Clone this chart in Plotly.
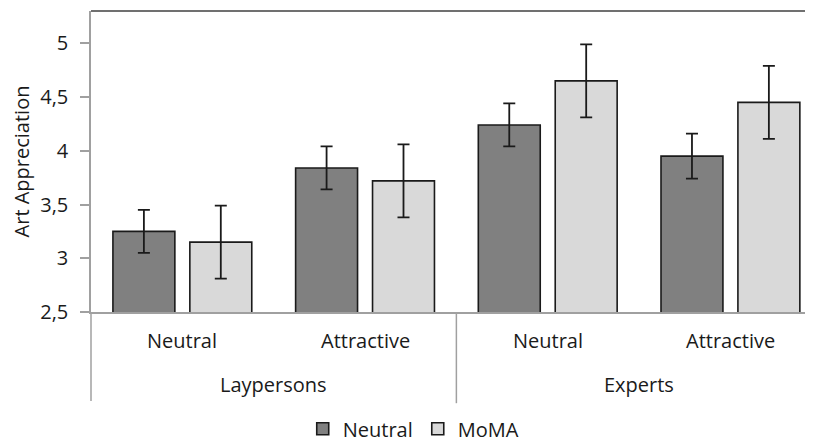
import plotly.graph_objects as go

conditions = ["Neutral", "Attractive", "Neutral", "Attractive"]
groups = ["Laypersons", "Experts"]
x_pos = [0, 1, 2, 3]
neutral_vals = [3.25, 3.84, 4.24, 3.95]
neutral_err = [0.20, 0.20, 0.20, 0.21]
moma_vals = [3.15, 3.72, 4.65, 4.45]
moma_err = [0.34, 0.34, 0.34, 0.34]

FONT = "Open Sans"
TXT = "#1a1a1a"

fig = go.Figure()
fig.add_trace(go.Bar(
    x=x_pos, y=neutral_vals, name="Neutral",
    width=0.339, offset=-0.380,
    marker=dict(color="#808080", line=dict(color="#1a1a1a", width=1.6)),
    error_y=dict(type="data", array=neutral_err, color="#1a1a1a", thickness=1.8, width=6),
))
fig.add_trace(go.Bar(
    x=x_pos, y=moma_vals, name="MoMA",
    width=0.339, offset=0.041,
    marker=dict(color="#d9d9d9", line=dict(color="#1a1a1a", width=1.6)),
    error_y=dict(type="data", array=moma_err, color="#1a1a1a", thickness=1.8, width=6),
))

# the page body adds an 8px offset; the figure is sized to fill the rest of the window
W, H = 805, 435
L, R, T, B = 83, 0, 3, 131

fig.update_layout(
    width=W, height=H,
    margin=dict(l=L, r=R, t=T, b=B, autoexpand=False),
    paper_bgcolor="white", plot_bgcolor="white",
    separators=",.",
    font=dict(family=FONT, size=20, color=TXT),
    showlegend=True,
    legend=dict(orientation="h", x=0.447, xanchor="center", y=-0.388, yanchor="middle",
                font=dict(size=20, family=FONT, color=TXT), itemwidth=30,
                traceorder="normal", bgcolor="rgba(0,0,0,0)"),
    xaxis=dict(range=[-0.5, 3.452], showticklabels=False, showgrid=False, zeroline=False,
               showline=True, linecolor="#a0a0a0", linewidth=1.5, ticks="", fixedrange=True,
               automargin=False),
    yaxis=dict(range=[2.5, 5.3], tick0=2.5, dtick=0.5, showgrid=False, zeroline=False,
               showline=True, linecolor="#a0a0a0", linewidth=1.5, automargin=False,
               ticks="outside", ticklen=9, tickcolor="#a0a0a0", tickwidth=1.5,
               ticklabelstandoff=8,
               tickfont=dict(size=20, family=FONT, color=TXT),
               title=dict(text="Art Appreciation", font=dict(size=20, family=FONT, color=TXT),
                          standoff=10)),
)

# top border
fig.add_shape(type="line", xref="paper", yref="paper", x0=0, x1=1, y0=1, y1=1,
              line=dict(color="#404040", width=1.6))
# left axis extension and group divider
fig.add_shape(type="line", xref="paper", yref="paper", x0=0, x1=0, y0=0, y1=-0.296,
              line=dict(color="#a0a0a0", width=1.5))
fig.add_shape(type="line", xref="x", yref="paper", x0=1.5, x1=1.5, y0=0, y1=-0.303,
              line=dict(color="#a0a0a0", width=1.5))

for xp, c in zip(x_pos, conditions):
    fig.add_annotation(x=xp, y=-0.096, xref="x", yref="paper", text=c, showarrow=False,
                       xanchor="center", yanchor="middle", font=dict(size=20, family=FONT, color=TXT))
for gi, g in enumerate(groups):
    fig.add_annotation(x=2 * gi + 0.5, y=-0.24, xref="x", yref="paper", text=g, showarrow=False,
                       xanchor="center", yanchor="middle", font=dict(size=20, family=FONT, color=TXT))

fig.write_html("out.html")
